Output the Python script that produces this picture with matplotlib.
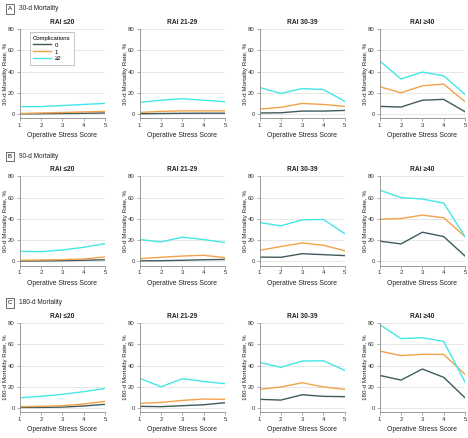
import matplotlib
matplotlib.use("Agg")
import matplotlib.pyplot as plt
from matplotlib import font_manager

names = {f.name for f in font_manager.fontManager.ttflist}
if "Liberation Sans Narrow" in names:
    plt.rcParams['font.family'] = ['Liberation Sans Narrow', 'DejaVu Sans']
    fs = 5.0
else:
    plt.rcParams['font.family'] = ['Liberation Sans', 'DejaVu Sans']
    fs = 4.3

oss = [1, 2, 3, 4, 5]
rai_groups = ["RAI ≤20", "RAI 21-29", "RAI 30-39", "RAI ≥40"]
complications = ["0", "1", "≥2"]
sections = ["30-d Mortality", "90-d Mortality", "180-d Mortality"]
section_letters = ["A", "B", "C"]
ylabels = ["30-d Mortality Rate, %", "90-d Mortality Rate, %", "180-d Mortality Rate, %"]

# values[section][rai] = [comp0, comp1, comp2]
mort30 = [
    [[0.2, 0.3, 0.5, 0.7, 1.0], [0.5, 1.0, 1.5, 2.0, 2.5], [7.0, 7.0, 8.0, 9.0, 10.0]],
    [[0.3, 0.5, 0.7, 0.8, 0.8], [1.5, 2.5, 3.0, 3.0, 3.0], [11.0, 13.0, 14.4, 13.0, 11.6]],
    [[1.0, 1.2, 2.8, 2.8, 3.4], [4.7, 6.3, 10.0, 9.0, 7.2], [25.0, 19.4, 24.0, 23.0, 12.0]],
    [[7.2, 6.6, 13.0, 13.8, 2.2], [25.7, 20.0, 26.6, 28.2, 11.6], [50.0, 33.0, 39.5, 36.0, 18.5]],
]
mort90 = [
    [[0.3, 0.4, 0.6, 1.0, 1.5], [1.0, 1.3, 1.6, 2.2, 4.1], [9.4, 9.1, 10.7, 13.2, 16.7]],
    [[0.5, 0.6, 1.0, 1.5, 1.8], [2.5, 3.8, 5.0, 5.7, 3.5], [20.5, 18.3, 22.7, 20.5, 17.6]],
    [[4.0, 3.8, 7.2, 6.3, 5.4], [10.4, 13.9, 17.3, 15.1, 10.0], [36.5, 33.4, 39.0, 39.4, 26.0]],
    [[19.0, 16.4, 27.4, 23.3, 5.0], [39.7, 40.3, 43.5, 41.0, 23.3], [67.0, 60.0, 58.6, 54.8, 23.3]],
]
mort180 = [
    [[0.6, 0.6, 0.9, 1.9, 3.5], [1.3, 1.6, 2.2, 3.8, 6.3], [9.7, 11.0, 12.9, 15.4, 18.5]],
    [[1.6, 1.3, 2.2, 3.1, 5.0], [4.4, 5.3, 7.2, 8.5, 8.2], [28.0, 20.0, 27.6, 25.0, 22.9]],
    [[8.2, 7.5, 12.5, 11.0, 10.7], [17.6, 19.8, 23.8, 19.8, 17.6], [43.0, 38.3, 44.2, 44.5, 35.4]],
    [[30.7, 26.3, 36.7, 28.9, 9.7], [53.6, 49.3, 50.5, 50.5, 31.7], [78.4, 65.3, 66.2, 62.7, 24.5]],
]
all_data = [mort30, mort90, mort180]

colors = ["#3f5b5e", "#f2a24a", "#45e6e8"]
W, H = 468, 438
fig = plt.figure(figsize=(W / 100, H / 100), dpi=100)

lefts_px = [19.7, 139.7, 259.5, 379.7]
tops_px = [29, 176.3, 323]
aw_px, ah_px = 85.3, 89.3
spine_col = "#8c8c8c"

for r in range(3):
    top = tops_px[r]
    ly = top - 20
    fig.text(10 / W, 1 - ly / H, section_letters[r], fontsize=fs, ha="center", va="center",
             bbox=dict(boxstyle="square,pad=0.35", fc="white", ec="#333333", lw=0.5))
    fig.text(19 / W, 1 - ly / H, sections[r], fontsize=fs + 0.4, ha="left", va="center", color="#222222")
    for c in range(4):
        ax = fig.add_axes([lefts_px[c] / W, 1 - (top + ah_px) / H, aw_px / W, ah_px / H])
        ax.set_xlim(1, 5)
        ax.set_ylim(-4, 80)
        ax.set_yticks([0, 20, 40, 60, 80])
        ax.set_xticks(oss)
        ax.grid(axis="y", color="#e3e3e3", lw=0.6)
        ax.set_axisbelow(True)
        for s in ["top", "right"]:
            ax.spines[s].set_visible(False)
        for s in ["left", "bottom"]:
            ax.spines[s].set_color(spine_col)
            ax.spines[s].set_linewidth(0.6)
        ax.tick_params(axis="both", labelsize=fs, labelcolor="#333333", length=2, width=0.5,
                       pad=1.5, color=spine_col)
        ax.set_xlabel("Operative Stress Score", fontsize=fs + 0.6, labelpad=3, color="#222222")
        ax.set_ylabel(ylabels[r], fontsize=fs + 0.2, color="#222222")
        ax.yaxis.set_label_coords(-11.3 / aw_px, 0.5)
        ax.set_title(rai_groups[c], fontsize=fs + 0.5, fontweight="bold", pad=3.5, color="#222222")
        for k in range(3):
            ax.plot(oss, all_data[r][c][k], color=colors[k], lw=1.0, label=complications[k])
        if r == 0 and c == 0:
            leg = ax.legend(title="Complications", loc="upper left", bbox_to_anchor=(0.08, 1.0),
                            fontsize=fs, title_fontsize=fs, frameon=True, fancybox=False,
                            handlelength=3.0, borderpad=0.6, labelspacing=0.3,
                            handletextpad=0.6)
            leg.get_frame().set_edgecolor("#999999")
            leg.get_frame().set_linewidth(0.5)
            leg._legend_box.align = "left"

fig.savefig("out.png", dpi=100)
